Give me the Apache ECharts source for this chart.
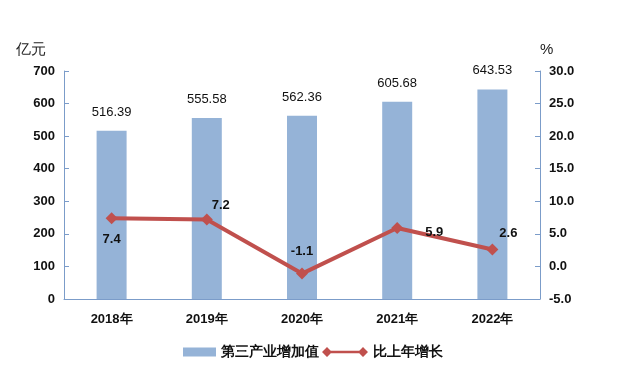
<!DOCTYPE html>
<html><head><meta charset="utf-8">
<script src="https://cdn.jsdelivr.net/npm/echarts@6/dist/echarts.min.js"></script>
<style>html,body{margin:0;padding:0;background:#fff}#c{width:618px;height:370px}</style>
</head><body><div id="c"></div>
<script>
var categories = ['2018年','2019年','2020年','2021年','2022年'];
var valueAdded = [516.39, 555.58, 562.36, 605.68, 643.53];
var growth = [7.4, 7.2, -1.1, 5.9, 2.6];
var leftTicks = [0, 700, 100];
var rightTicks = [-5, 30, 5];

var growthLabelPos = [
  {position:'bottom', distance:9},
  {position:'top', offset:[14,0], distance:2},
  {position:'top', distance:10},
  {position:'right', offset:[17,4]},
  {position:'top', offset:[16,0], distance:4}
];
var F = '"Liberation Sans", Arial, sans-serif';
var axisColor = '#7B9CC9';
var legendText = {fontFamily:F, fontSize:14, fontWeight:'bold', color:'#111'};
var chart = echarts.init(document.getElementById('c'));
chart.setOption({
  animation:false,
  grid:{left:64, right:78, top:71, bottom:71},
  legend:[{
    bottom:11, left:183, padding:0,
    textStyle:legendText,
    data:[{name:'第三产业增加值', icon:'rect', itemStyle:{color:'#95B3D7'}}],
    itemWidth:33, itemHeight:9
  },{
    bottom:11, left:322, padding:0,
    textStyle:legendText,
    data:[{name:'比上年增长',
      icon:'path://M0,5L5,0L10,5L5,10Z M36,5L41,0L46,5L41,10Z M5,3.8H41V6.2H5Z',
      itemStyle:{color:'#C0504D'}}],
    itemWidth:46, itemHeight:10
  }],
  xAxis:{
    type:'category', data:categories,
    axisLine:{lineStyle:{color:axisColor, width:1}},
    axisTick:{show:false},
    axisLabel:{fontFamily:F, fontSize:13, fontWeight:'bold', color:'#111', margin:14}
  },
  yAxis:[{
    type:'value', min:leftTicks[0], max:leftTicks[1], interval:leftTicks[2],
    name:'亿元', nameLocation:'end', nameGap:14,
    nameTextStyle:{fontFamily:F, fontSize:15, color:'#222', align:'right', padding:[0,18,0,0]},
    axisLine:{show:true, lineStyle:{color:axisColor}},
    axisTick:{show:true, inside:true, length:5, lineStyle:{color:axisColor}},
    splitLine:{show:false},
    axisLabel:{fontFamily:F, fontSize:13, fontWeight:'bold', color:'#111', margin:9}
  },{
    type:'value', min:rightTicks[0], max:rightTicks[1], interval:rightTicks[2],
    name:'%', nameLocation:'end', nameGap:14,
    nameTextStyle:{fontFamily:F, fontSize:15, color:'#222', align:'left', padding:[0,0,0,0]},
    axisLine:{show:true, lineStyle:{color:axisColor}},
    axisTick:{show:true, inside:true, length:5, lineStyle:{color:axisColor}},
    splitLine:{show:false},
    axisLabel:{fontFamily:F, fontSize:13, fontWeight:'bold', color:'#111', margin:9,
      formatter:function(v){return v.toFixed(1);}}
  }],
  series:[{
    name:'第三产业增加值', type:'bar', yAxisIndex:0, data:valueAdded, barWidth:30,
    itemStyle:{color:'#95B3D7'},
    label:{show:true, position:'top', distance:12, fontFamily:F, fontSize:13, color:'#111',
      formatter:function(p){return p.value.toFixed(2);}}
  },{
    name:'比上年增长', type:'line', yAxisIndex:1,
    data:growth.map(function(v,i){return {value:v, label:growthLabelPos[i]};}),
    symbol:'diamond', symbolSize:12,
    lineStyle:{color:'#C0504D', width:4},
    itemStyle:{color:'#C0504D'},
    label:{show:true, fontFamily:F, fontSize:13, fontWeight:'bold', color:'#111'}
  }]
});
</script></body></html>
